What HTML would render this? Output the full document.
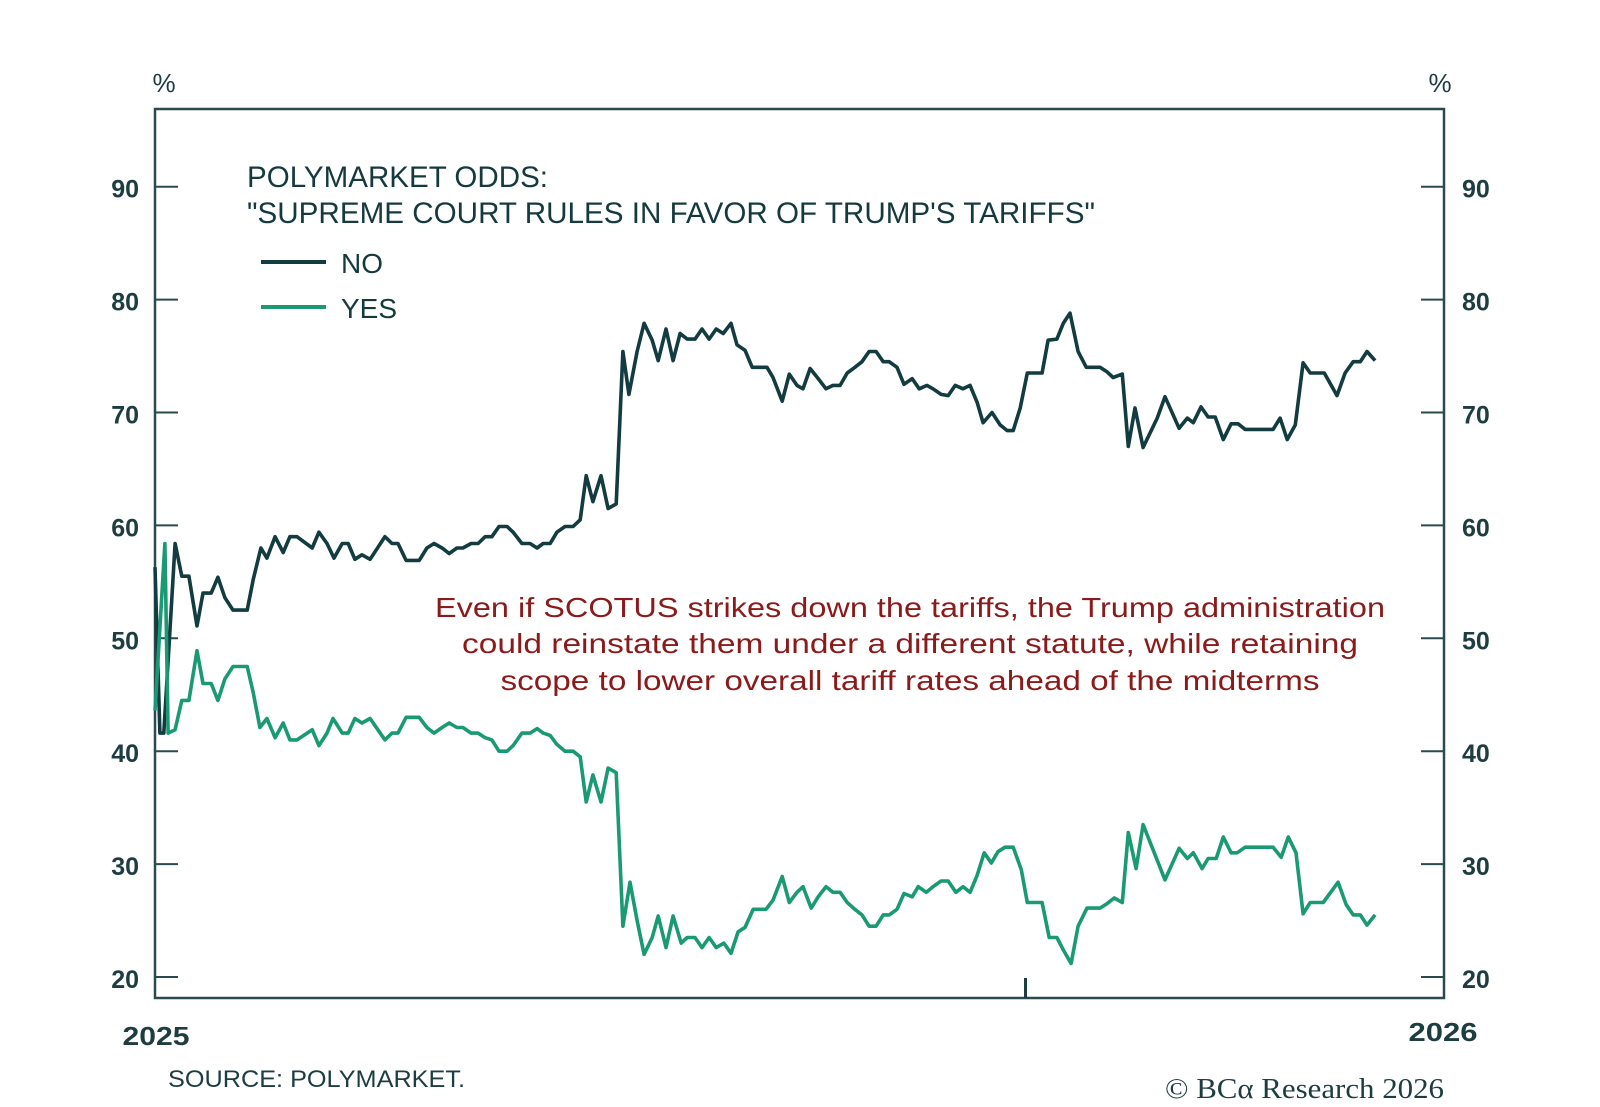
<!DOCTYPE html>
<html><head><meta charset="utf-8"><style>
html,body{margin:0;padding:0;background:#fff;}
svg{display:block;font-family:"Liberation Sans",sans-serif;}
</style></head><body>
<svg id="chart" width="1600" height="1107" viewBox="0 0 1600 1107">
<rect x="0" y="0" width="1600" height="1107" fill="#fff"/>
<g id="axes"></g>
<g id="series"></g>
<text x="164" y="92" font-size="26" fill="#1d3d40" text-anchor="middle">%</text>
<text x="1440" y="92" font-size="26" fill="#1d3d40" text-anchor="middle">%</text>
<text x="247" y="187" font-size="30" fill="#153a3e" textLength="301" lengthAdjust="spacingAndGlyphs">POLYMARKET ODDS:</text>
<text x="247" y="223" font-size="30" fill="#153a3e" textLength="848" lengthAdjust="spacingAndGlyphs">"SUPREME COURT RULES IN FAVOR OF TRUMP'S TARIFFS"</text>
<line x1="261" y1="262" x2="326" y2="262" stroke="#123c40" stroke-width="4"/>
<text x="341" y="273" font-size="28" fill="#153a3e">NO</text>
<line x1="261" y1="307" x2="326" y2="307" stroke="#1a9a73" stroke-width="4"/>
<text x="341" y="318" font-size="28" fill="#153a3e">YES</text>
<g fill="#8b1a1a" font-size="28" text-anchor="middle">
<text x="910" y="617" textLength="950" lengthAdjust="spacingAndGlyphs">Even if SCOTUS strikes down the tariffs, the Trump administration</text>
<text x="910" y="653" textLength="896" lengthAdjust="spacingAndGlyphs">could reinstate them under a different statute, while retaining</text>
<text x="910" y="690" textLength="819" lengthAdjust="spacingAndGlyphs">scope to lower overall tariff rates ahead of the midterms</text>
</g>
<text x="156" y="1045" font-size="26" font-weight="bold" fill="#1d3d40" text-anchor="middle" textLength="67" lengthAdjust="spacingAndGlyphs">2025</text>
<text x="1443" y="1041" font-size="26" font-weight="bold" fill="#1d3d40" text-anchor="middle" textLength="69" lengthAdjust="spacingAndGlyphs">2026</text>
<text x="168" y="1087" font-size="24" fill="#1d3d40" textLength="297" lengthAdjust="spacingAndGlyphs">SOURCE: POLYMARKET.</text>
<text x="1165" y="1098" font-size="28" fill="#1d3d40" font-family="Liberation Serif, serif" textLength="279" lengthAdjust="spacingAndGlyphs">© BCα Research 2026</text>
</svg>
<script>
const yTicks = [20,30,40,50,60,70,80,90];
const noDays = [0,1.4,2.5,5.7,7.6,9.6,11.9,13.6,15.9,17.8,19.8,22.1,26.1,27.8,30.0,31.7,34.0,36.3,38.2,40.2,44.5,46.4,48.7,50.7,53.0,54.7,56.6,58.6,60.9,65.1,67.1,68.8,71.1,74.8,77.0,79.0,81.3,83.3,85.5,87.2,89.5,91.5,93.5,95.4,97.4,99.7,101.4,103.9,106.2,108.2,109.9,111.9,113.8,116.1,118.4,120.4,122.1,124.0,126.3,128.3,130.6,132.5,134.2,136.5,138.5,140.8,142.5,144.7,146.7,148.7,150.7,152.9,154.9,156.9,158.9,160.9,163.1,164.8,167.1,169.1,173.3,175.0,177.6,179.6,181.8,183.5,185.5,187.8,190.0,192.0,194.0,196.0,198.2,200.2,202.2,204.2,206.2,207.9,210.1,212.1,214.4,216.4,218.6,220.3,222.6,224.6,226.6,228.8,230.8,232.8,234.5,237.0,239.3,241.3,243.0,245.0,247.0,251.2,252.9,255.4,257.2,259.1,261.4,263.7,267.6,269.6,271.3,273.9,275.6,277.5,279.8,283.8,286.0,290.0,292.3,294.0,296.2,298.2,300.2,302.5,304.7,306.7,308.7,316.6,318.6,320.6,322.9,325.1,327.1,331.1,334.7,337.0,339.3,341.3,343.2,345.5];
const noValues = [56.3,41.6,41.6,58.4,55.5,55.5,51.1,54.0,54.0,55.4,53.6,52.5,52.5,55.2,58.0,57.1,59.0,57.6,59.0,59.0,58.0,59.4,58.4,57.1,58.4,58.4,57.0,57.4,57.0,59.0,58.4,58.4,56.9,56.9,58.0,58.4,58.0,57.5,58.0,58.0,58.4,58.4,59.0,59.0,59.9,59.9,59.4,58.4,58.4,58.0,58.4,58.4,59.4,59.9,59.9,60.5,64.4,62.1,64.4,61.5,61.9,75.4,71.6,75.4,77.9,76.4,74.6,77.4,74.6,77.0,76.5,76.5,77.4,76.5,77.4,77.0,77.9,76.0,75.5,74.0,74.0,73.1,71.0,73.4,72.4,72.1,73.9,73.0,72.1,72.4,72.4,73.5,74.0,74.5,75.4,75.4,74.5,74.5,74.0,72.5,73.0,72.1,72.4,72.1,71.6,71.5,72.4,72.1,72.4,70.9,69.1,70.0,68.9,68.4,68.4,70.4,73.5,73.5,76.4,76.5,77.9,78.8,75.4,74.0,74.0,73.6,73.1,73.4,67.0,70.4,66.9,69.5,71.4,68.6,69.5,69.1,70.5,69.6,69.6,67.6,69.0,69.0,68.5,68.5,69.5,67.6,68.9,74.4,73.5,73.5,71.5,73.5,74.5,74.5,75.4,74.6];
const yesDays = [0,2.8,3.7,5.7,7.6,9.6,11.9,13.6,15.9,17.8,19.8,22.1,26.1,27.8,29.7,31.7,34.0,36.3,38.2,40.2,44.5,46.4,48.7,50.4,53.0,54.7,56.6,58.6,60.9,65.1,67.1,68.8,71.1,74.8,77.0,79.0,81.3,83.3,85.5,87.2,89.5,91.5,93.5,95.4,97.4,99.7,101.4,103.9,106.2,108.2,109.9,111.9,113.8,116.1,118.4,120.4,122.1,124.0,126.3,128.3,130.6,132.5,134.5,136.5,138.5,140.8,142.5,144.7,146.7,149.0,150.7,152.9,154.9,156.9,158.9,161.1,163.1,165.1,167.1,169.4,173.0,175.0,177.6,179.6,181.8,183.5,185.8,187.8,190.0,192.0,194.0,196.0,198.2,200.2,202.2,204.2,206.2,207.9,210.1,212.1,214.4,216.1,218.4,220.3,222.6,224.6,226.8,228.8,230.8,232.8,234.8,236.8,238.7,240.7,243.0,245.3,247.0,251.2,253.2,255.4,257.2,259.4,261.4,263.9,267.6,269.6,271.6,273.9,275.6,277.8,279.8,286.0,290.0,292.3,294.0,296.5,298.2,300.5,302.5,304.7,306.4,308.7,316.6,318.9,320.9,323.1,325.1,327.1,330.8,335.0,337.3,339.3,341.3,343.2,345.5];
const yesValues = [43.6,58.4,41.6,41.9,44.5,44.5,48.9,46.0,46.0,44.5,46.4,47.5,47.5,45.2,42.1,42.9,41.2,42.5,41.0,41.0,41.9,40.5,41.6,42.9,41.6,41.6,42.9,42.5,42.9,41.0,41.6,41.6,43.0,43.0,42.1,41.6,42.1,42.5,42.1,42.1,41.6,41.6,41.2,41.0,40.0,40.0,40.5,41.6,41.6,42.0,41.6,41.4,40.6,40.0,40.0,39.5,35.5,37.9,35.5,38.5,38.1,24.5,28.4,25.0,22.0,23.5,25.4,22.6,25.4,23.0,23.5,23.5,22.6,23.5,22.6,23.0,22.1,24.0,24.4,26.0,26.0,26.8,28.9,26.6,27.5,28.0,26.1,27.1,28.0,27.5,27.5,26.6,26.0,25.5,24.5,24.5,25.5,25.5,26.0,27.4,27.1,28.0,27.5,28.0,28.5,28.5,27.5,28.0,27.5,29.0,31.0,30.1,31.1,31.5,31.5,29.5,26.6,26.6,23.5,23.5,22.4,21.2,24.5,26.1,26.1,26.5,27.0,26.6,32.8,29.6,33.5,28.6,31.4,30.5,31.0,29.6,30.5,30.5,32.4,31.0,31.0,31.5,31.5,30.6,32.4,31.0,25.6,26.6,26.6,28.4,26.4,25.5,25.5,24.6,25.5];
const xMarkerDay = 246.5;

const NS = 'http://www.w3.org/2000/svg';
const L = 155, R = 1444, T = 109, B = 998;
function xScale(d){ return L + d * (R - L) / 365; }
function yScale(v){ return 977 - (v - 20) * 11.29; }
const axes = document.getElementById('axes');
const series = document.getElementById('series');
const frame = document.createElementNS(NS, 'rect');
frame.setAttribute('x', L); frame.setAttribute('y', T);
frame.setAttribute('width', R - L); frame.setAttribute('height', B - T);
frame.setAttribute('fill', 'none'); frame.setAttribute('stroke', '#2a4a4e'); frame.setAttribute('stroke-width', '2.5');


axes.appendChild(frame);
yTicks.forEach(function(t){
  const y = yScale(t);
  const tl = document.createElementNS(NS, 'line');
  tl.setAttribute('x1', L); tl.setAttribute('x2', L + 23); tl.setAttribute('y1', y); tl.setAttribute('y2', y);
  tl.setAttribute('stroke', '#2a4a4e'); tl.setAttribute('stroke-width', '2');
  
  
  axes.appendChild(tl);
  const tr = document.createElementNS(NS, 'line');
  tr.setAttribute('x1', R - 23); tr.setAttribute('x2', R); tr.setAttribute('y1', y); tr.setAttribute('y2', y);
  tr.setAttribute('stroke', '#2a4a4e'); tr.setAttribute('stroke-width', '2');
  
  
  axes.appendChild(tr);
  const ll = document.createElementNS(NS, 'text');
  ll.setAttribute('x', 139); ll.setAttribute('y', y + 11); ll.setAttribute('text-anchor', 'end');
  ll.setAttribute('font-size', '25'); ll.setAttribute('font-weight', 'bold'); ll.setAttribute('fill', '#1d3d40');
  ll.textContent = t;
  
  
  axes.appendChild(ll);
  const rl = document.createElementNS(NS, 'text');
  rl.setAttribute('x', 1462); rl.setAttribute('y', y + 11);
  rl.setAttribute('font-size', '25'); rl.setAttribute('font-weight', 'bold'); rl.setAttribute('fill', '#1d3d40');
  rl.textContent = t;
  
  
  axes.appendChild(rl);
});
const mk = document.createElementNS(NS, 'line');
mk.setAttribute('x1', xScale(xMarkerDay)); mk.setAttribute('x2', xScale(xMarkerDay));
mk.setAttribute('y1', B - 20); mk.setAttribute('y2', B);
mk.setAttribute('stroke', '#1d3d40'); mk.setAttribute('stroke-width', '3');


axes.appendChild(mk);
function drawLine(days, vals, color, name){
  const pts = days.map(function(d, i){ return xScale(d).toFixed(1) + ',' + yScale(vals[i]).toFixed(1); }).join(' ');
  const pl = document.createElementNS(NS, 'polyline');
  pl.setAttribute('points', pts);
  pl.setAttribute('fill', 'none'); pl.setAttribute('stroke', color);
  pl.setAttribute('stroke-width', '3.6'); pl.setAttribute('stroke-linejoin', 'round');
  
  
  series.appendChild(pl);
}
drawLine(noDays, noValues, '#123c40', 'no-line');
drawLine(yesDays, yesValues, '#1a9a73', 'yes-line');
</script>
</body></html>
